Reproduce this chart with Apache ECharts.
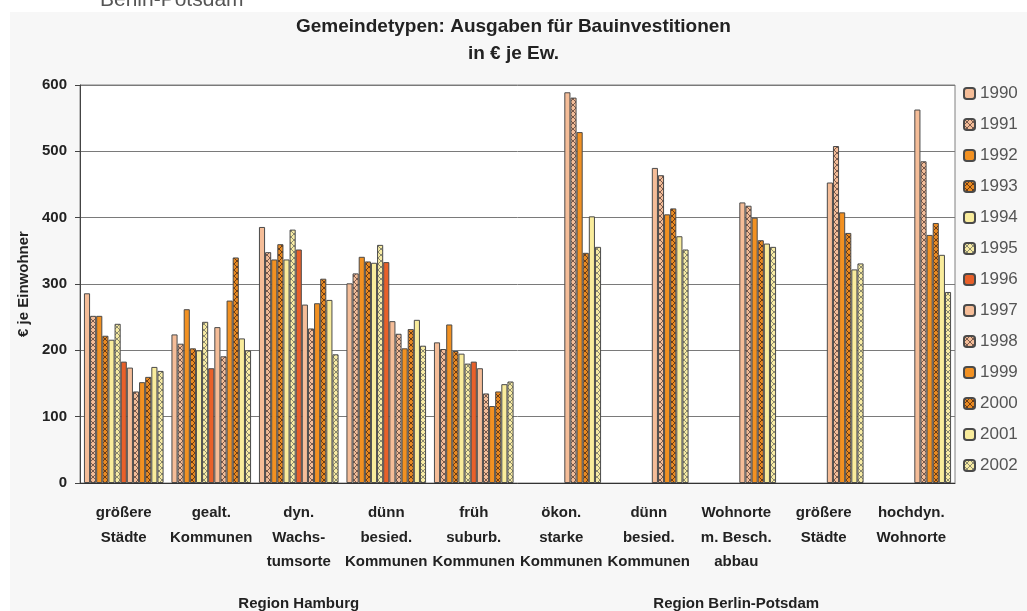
<!DOCTYPE html>
<html>
<head>
<meta charset="utf-8">
<script src="https://cdn.jsdelivr.net/npm/echarts@6/dist/echarts.min.js"></script>
<style>
  html, body { margin: 0; padding: 0; background: #fff; }
  #main { width: 1027px; height: 611px; }
</style>
</head>
<body>
<div id="main"></div>
<script>
// years (series)
var years = ['1990','1991','1992','1993','1994','1995','1996','1997','1998','1999','2000','2001','2002'];
// categories (level 1) and regions (level 2)
var categories = [
  'größere\nStädte', 'gealt.\nKommunen', 'dyn.\nWachs-\ntumsorte', 'dünn\nbesied.\nKommunen', 'früh\nsuburb.\nKommunen',
  'ökon.\nstarke\nKommunen', 'dünn\nbesied.\nKommunen', 'Wohnorte\nm. Besch.\nabbau', 'größere\nStädte', 'hochdyn.\nWohnorte'
];
var regions = ['Region Hamburg', 'Region Berlin-Potsdam'];
var yTicks = [0, 100, 200, 300, 400, 500, 600];

// Region Hamburg, 1990..2002
var grossHH  = [286, 252, 252, 222, 216, 240, 183, 174, 138, 152, 160, 175, 169];
var gealtHH  = [224, 210, 262, 203, 200, 243, 173, 235, 191, 275, 340, 218, 200];
var dynHH    = [386, 348, 337, 360, 337, 382, 352, 269, 233, 271, 308, 276, 194];
var duennHH  = [301, 316, 341, 334, 332, 359, 333, 244, 225, 203, 232, 246, 207];
var fruehHH  = [212, 202, 239, 199, 195, 180, 183, 173, 135, 116, 138, 149, 153];
// Region Berlin-Potsdam, only 1997..2002
var oekonBP   = [589, 581, 529, 347, 402, 356];
var duennBP   = [475, 464, 405, 414, 372, 352];
var wohnortBP = [423, 418, 400, 366, 361, 356];
var grossBP   = [453, 508, 408, 377, 322, 331];
var hochdynBP = [563, 485, 374, 392, 344, 288];

var none7 = [null, null, null, null, null, null, null];
var groups = [
  grossHH, gealtHH, dynHH, duennHH, fruehHH,
  none7.concat(oekonBP), none7.concat(duennBP), none7.concat(wohnortBP),
  none7.concat(grossBP), none7.concat(hochdynBP)
];

function hatch(base, line) {
  var c = document.createElement('canvas');
  c.width = 6; c.height = 6;
  var g = c.getContext('2d');
  g.fillStyle = base;
  g.fillRect(0, 0, 6, 6);
  g.strokeStyle = line;
  g.lineWidth = 1;
  g.beginPath();
  g.moveTo(0, 0); g.lineTo(6, 6);
  g.moveTo(6, 0); g.lineTo(0, 6);
  g.stroke();
  return { image: c, repeat: 'repeat' };
}

var peach = '#F5BD98';
var peachH = hatch('#F2BC98', '#7a5a4c');
var orange = '#F29122';
var orangeH = hatch('#E98A22', '#6e3d14');
var yellow = '#F9EC9C';
var yellowH = hatch('#F7EBA4', '#8c8a70');
var red = '#E8602A';
var fills = [peach, peachH, orange, orangeH, yellow, yellowH, red, peach, peachH, orange, orangeH, yellow, yellowH];

var font = 'Arial, "Liberation Sans", sans-serif';

var series = years.map(function (y, i) {
  return {
    name: y,
    type: 'bar',
    barGap: '0%',
    barCategoryGap: '9%',
    itemStyle: { color: fills[i], borderColor: '#4a4a4a', borderWidth: 1 },
    data: groups.map(function (g) { return g[i]; })
  };
});

var myChart = echarts.init(document.getElementById('main'));
myChart.setOption({
  backgroundColor: '#f7f7f7',
  animation: false,
  textStyle: { fontFamily: font },
  graphic: [
    { type: 'rect', shape: { x: 0, y: 0, width: 1027, height: 12 }, style: { fill: '#ffffff' } },
    { type: 'rect', shape: { x: 0, y: 0, width: 10, height: 611 }, style: { fill: '#ffffff' } },
    { type: 'text', x: 100, y: 11, style: { text: 'Berlin-Potsdam', fontSize: 21, fontFamily: font, fill: '#555', verticalAlign: 'bottom' } }
  ],
  title: {
    text: 'Gemeindetypen: Ausgaben für Bauinvestitionen\nin € je Ew.',
    left: 'center',
    top: 13,
    padding: 0,
    textStyle: { fontSize: 19, fontWeight: 'bold', color: '#222', lineHeight: 27, fontFamily: font }
  },
  legend: {
    orient: 'vertical',
    left: 963,
    top: 85,
    padding: 0,
    itemWidth: 11,
    itemHeight: 11,
    itemGap: 14,
    textStyle: { fontSize: 17, color: '#555', lineHeight: 17, fontFamily: font },
    data: years
  },
  grid: {
    left: 80, right: 72, top: 85, bottom: 127,
    show: true, backgroundColor: '#ffffff', borderColor: '#808080', borderWidth: 1
  },
  xAxis: [
    {
      type: 'category',
      data: categories,
      axisLine: { lineStyle: { color: '#333', width: 1 } },
      axisTick: { length: 90, interval: 0, lineStyle: { color: '#555' } },
      axisLabel: { interval: 0, margin: 18, fontSize: 15, fontWeight: 'bold', color: '#222', lineHeight: 24.5, verticalAlign: 'top', fontFamily: font }
    },
    {
      type: 'category',
      position: 'bottom',
      data: regions,
      axisLine: { show: false },
      axisTick: { length: 127, lineStyle: { color: '#555' } },
      axisLabel: { margin: 113, fontSize: 15, fontWeight: 'bold', color: '#222', verticalAlign: 'top', fontFamily: font }
    }
  ],
  yAxis: {
    type: 'value',
    min: yTicks[0],
    max: yTicks[yTicks.length - 1],
    interval: 100,
    name: '€ je Einwohner',
    nameLocation: 'middle',
    nameRotate: 90,
    nameGap: 48,
    nameTextStyle: { fontSize: 15, fontWeight: 'bold', color: '#222', fontFamily: font },
    axisLine: { show: true, lineStyle: { color: '#444' } },
    axisTick: { show: true, length: 5, lineStyle: { color: '#444' } },
    axisLabel: { fontSize: 15, fontWeight: 'bold', color: '#222', margin: 13, fontFamily: font },
    splitLine: { lineStyle: { color: '#7a7a7a', width: 1 } }
  },
  series: series
});
</script>
</body>
</html>
